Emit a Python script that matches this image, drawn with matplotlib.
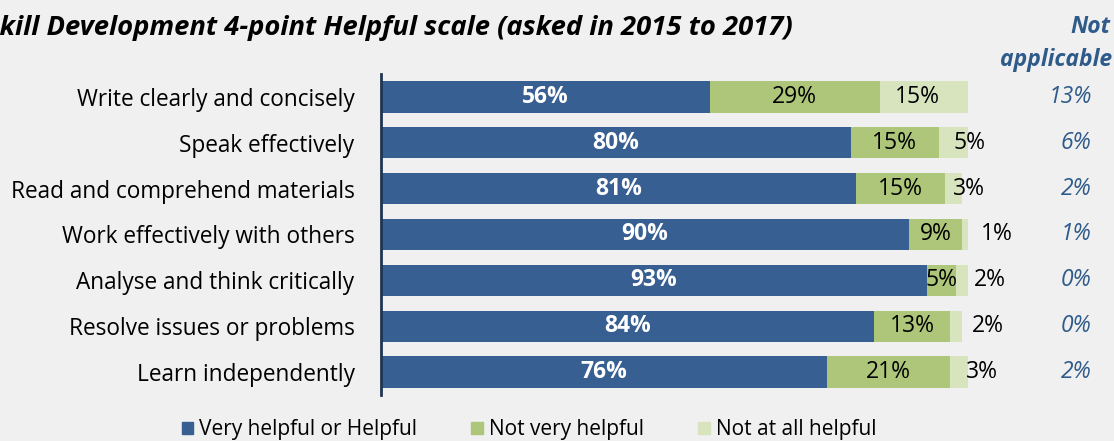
import matplotlib
matplotlib.use("Agg")
import matplotlib.pyplot as plt
from matplotlib.patches import Patch

# data
skills = ["Write clearly and concisely", "Speak effectively", "Read and comprehend materials",
          "Work effectively with others", "Analyse and think critically",
          "Resolve issues or problems", "Learn independently"]
helpful = [56, 80, 81, 90, 93, 84, 76]
not_very = [29, 15, 15, 9, 5, 13, 21]
not_at_all = [15, 5, 3, 1, 2, 2, 3]
not_applicable = [13, 6, 2, 1, 0, 0, 2]
series_names = ["Very helpful or Helpful", "Not very helpful", "Not at all helpful"]

# nudges (points) for small outside labels, per row
nudge = [0, 1, 1, 21, 16, 14, 10]

BLUE = "#375F91"
GREEN = "#ADC67A"
LIGHT = "#D8E4BD"
NA_BLUE = "#2F5B8A"
BG = "#F0F0F0"
FONT = "Open Sans"
FS = 16.3
FS_BAR = 16.5

W, H = 1114, 441
fig = plt.figure(figsize=(W / 100, H / 100), dpi=100, facecolor=BG)
ax = fig.add_axes([381 / W, 1 - 395 / H, (968 - 381) / W, (395 - 74) / H])
ax.set_facecolor(BG)

y = list(range(len(skills)))
bh = 0.68
ax.barh(y, helpful, height=bh, color=BLUE)
left2 = helpful
ax.barh(y, not_very, left=left2, height=bh, color=GREEN)
left3 = [a + b for a, b in zip(helpful, not_very)]
ax.barh(y, not_at_all, left=left3, height=bh, color=LIGHT)

ax.set_xlim(0, 100)
ax.set_ylim(len(skills) - 0.5, -0.5)
for s in ["top", "right", "bottom"]:
    ax.spines[s].set_visible(False)
ax.spines["left"].set_color("#1F3552")
ax.spines["left"].set_linewidth(2)
ax.set_xticks([])
ax.set_yticks(y)
ax.set_yticklabels(skills, fontsize=FS, family=FONT)
ax.tick_params(axis="y", length=0, pad=19)

for i in y:
    ax.text(helpful[i] / 2, i, f"{helpful[i]}%", ha="center", va="center",
            color="white", fontsize=FS_BAR, fontweight="bold", family=FONT)
    ax.text(left2[i] + not_very[i] / 2, i, f"{not_very[i]}%", ha="center", va="center",
            color="black", fontsize=FS_BAR, family=FONT)
    if not_at_all[i] >= 10:
        ax.annotate(f"{not_at_all[i]}%", (left3[i] + not_at_all[i] / 2, i),
                    ha="center", va="center", fontsize=FS_BAR, family=FONT,
                    xytext=(-5, 0), textcoords="offset points")
    else:
        ax.annotate(f"{not_at_all[i]}%", (100, i), ha="center", va="center",
                    fontsize=FS_BAR, family=FONT, annotation_clip=False,
                    xytext=(nudge[i], 0), textcoords="offset points")
    ax.annotate(f"{not_applicable[i]}%", (1, i), xycoords=("figure fraction", "data"),
                xytext=(-16, 0), textcoords="offset points", ha="right", va="center",
                fontsize=FS_BAR, style="italic", color=NA_BLUE, family=FONT)

fig.text(-15 / W, 1 - 28 / H, "Skill Development 4-point Helpful scale (asked in 2015 to 2017)",
         ha="left", va="center", fontsize=19.7, fontweight="bold", style="italic", family=FONT)
fig.text(1110 / W, 1 - 27 / H, "Not", ha="right", va="center", fontsize=16.5,
         fontweight="bold", style="italic", color=NA_BLUE, family=FONT)
fig.text(1112 / W, 1 - 60 / H, "applicable", ha="right", va="center", fontsize=16.5,
         fontweight="bold", style="italic", color=NA_BLUE, family=FONT)

handles = [Patch(color=c) for c in (BLUE, GREEN, LIGHT)]
fig.legend(handles, series_names, loc="center", bbox_to_anchor=(529 / W, 1 - 430 / H),
           ncol=3, frameon=False, handlelength=0.55, handleheight=0.55, handletextpad=0.3,
           columnspacing=2.6, prop={"family": FONT, "size": 15})

fig.savefig("out.png", dpi=100, facecolor=BG)
